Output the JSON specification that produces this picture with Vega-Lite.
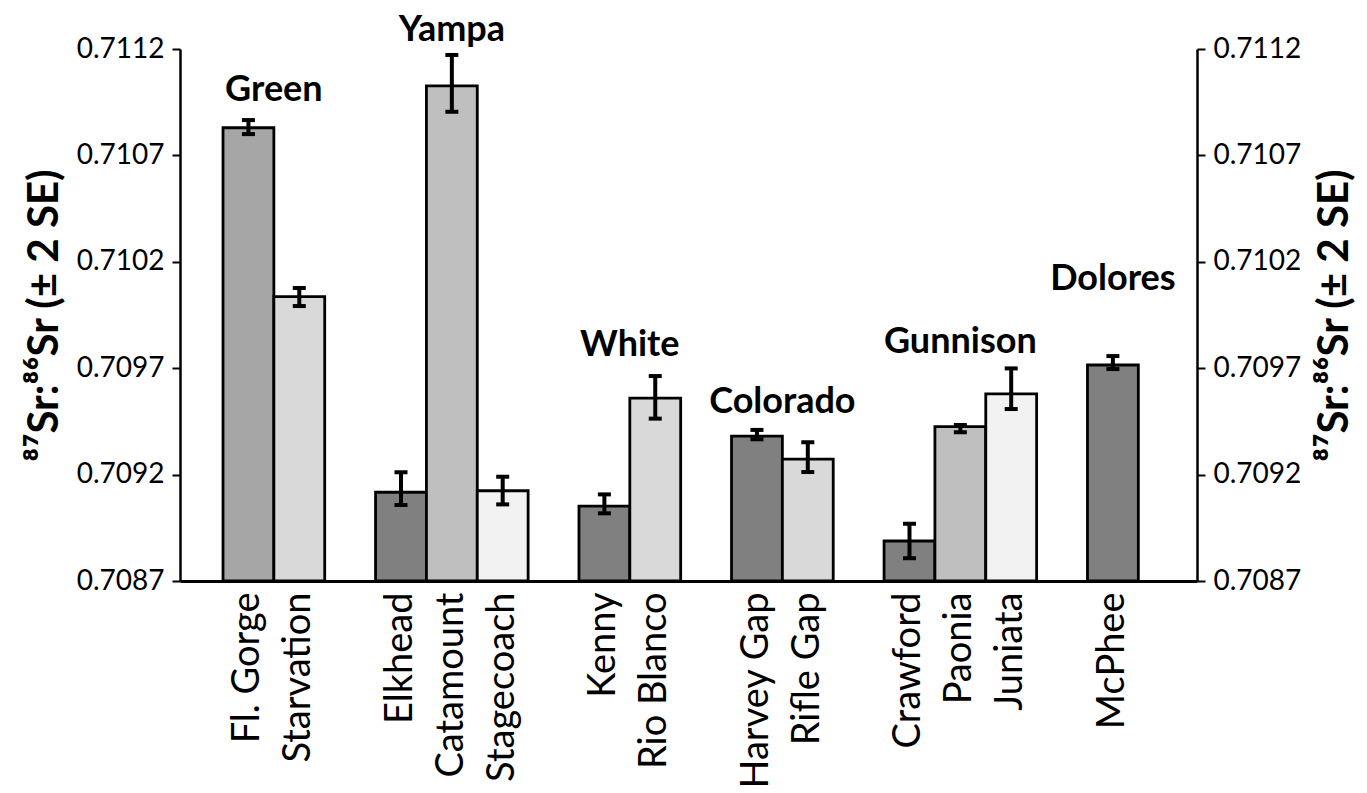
{
  "$schema": "https://vega.github.io/schema/vega-lite/v6.json",
  "width": 1017,
  "height": 532,
  "autosize": {"type": "none"},
  "padding": {"left": 180, "top": 49, "right": 170, "bottom": 212},
  "background": "white",
  "config": {"view": {"stroke": null}},
  "datasets": {
    "res": [
      {"reservoir": "Fl. Gorge", "river": "Green", "value": 0.71083, "lo": 0.7108, "hi": 0.710866},
      {"reservoir": "Starvation", "river": "Green", "value": 0.710036, "lo": 0.709992, "hi": 0.710077},
      {"reservoir": "Elkhead", "river": "Yampa", "value": 0.709117, "lo": 0.709057, "hi": 0.709211},
      {"reservoir": "Catamount", "river": "Yampa", "value": 0.711027, "lo": 0.710905, "hi": 0.711172},
      {"reservoir": "Stagecoach", "river": "Yampa", "value": 0.709124, "lo": 0.70906, "hi": 0.70919},
      {"reservoir": "Kenny", "river": "White", "value": 0.709052, "lo": 0.709018, "hi": 0.709107},
      {"reservoir": "Rio Blanco", "river": "White", "value": 0.709559, "lo": 0.709463, "hi": 0.709663},
      {"reservoir": "Harvey Gap", "river": "Colorado", "value": 0.709381, "lo": 0.709366, "hi": 0.70941},
      {"reservoir": "Rifle Gap", "river": "Colorado", "value": 0.709273, "lo": 0.709212, "hi": 0.709352},
      {"reservoir": "Crawford", "river": "Gunnison", "value": 0.708888, "lo": 0.708807, "hi": 0.708969},
      {"reservoir": "Paonia", "river": "Gunnison", "value": 0.709425, "lo": 0.709399, "hi": 0.709433},
      {"reservoir": "Juniata", "river": "Gunnison", "value": 0.709579, "lo": 0.709508, "hi": 0.709699},
      {"reservoir": "McPhee", "river": "Dolores", "value": 0.709715, "lo": 0.709696, "hi": 0.709757}
    ],
    "labelsEdge": [
      {"river": "Green", "anchor": "Starvation", "y": 0.711007},
      {"river": "White", "anchor": "Rio Blanco", "y": 0.709809},
      {"river": "Colorado", "anchor": "Rifle Gap", "y": 0.709541}
    ],
    "labelsMid": [
      {"river": "Yampa", "anchor": "Catamount", "y": 0.71129},
      {"river": "Gunnison", "anchor": "Paonia", "y": 0.709823},
      {"river": "Dolores", "anchor": "McPhee", "y": 0.710119}
    ]
  },
  "resolve": {"scale": {"y": "independent"}, "axis": {"y": "independent"}},
  "layer": [
    {
      "data": {"name": "res"},
      "mark": {"type": "bar", "stroke": "black", "strokeWidth": 2.8},
      "encoding": {
        "x": {
          "field": "reservoir", "type": "nominal", "title": null,
          "scale": {"domain": ["Fl. Gorge","Starvation"," ","Elkhead","Catamount","Stagecoach","  ","Kenny","Rio Blanco","   ","Harvey Gap","Rifle Gap","    ","Crawford","Paonia","Juniata","     ","McPhee"], "paddingInner": 0, "paddingOuter": 1.13, "align": 0.423},
          "axis": {"orient": "bottom", "labelAngle": 270, "labelAlign": "right", "labelBaseline": "middle", "labelFont": "Lato", "labelFontSize": 38, "labelColor": "black", "labelPadding": 11, "ticks": false, "tickSize": 0, "domainColor": "black", "domainWidth": 3, "labelOverlap": false, "labelLimit": 400}
        },
        "y": {
          "field": "value", "type": "quantitative",
          "scale": {"domain": [0.7087, 0.7112], "nice": false, "zero": false},
          "axis": {"orient": "left", "values": [0.7087,0.7092,0.7097,0.7102,0.7107,0.7112], "format": ".4f", "title": "⁸⁷Sr:⁸⁶Sr (± 2 SE)", "titleFont": "Lato, DejaVu Sans", "titleFontSize": 42, "titleFontWeight": "bold", "titleColor": "black", "titlePadding": 10, "labelFont": "Lato", "labelFontSize": 28, "labelColor": "black", "labelPadding": 8, "tickSize": 8, "tickWidth": 2, "tickColor": "black", "domainColor": "black", "domainWidth": 2.5, "grid": false}
        },
        "y2": {"datum": 0.7087},
        "color": {
          "field": "reservoir", "type": "nominal", "legend": null,
          "scale": {"domain": ["Fl. Gorge","Starvation","Elkhead","Catamount","Stagecoach","Kenny","Rio Blanco","Harvey Gap","Rifle Gap","Crawford","Paonia","Juniata","McPhee"],
                    "range": ["#a6a6a6","#d9d9d9","#808080","#bfbfbf","#f2f2f2","#808080","#d9d9d9","#808080","#d9d9d9","#808080","#bfbfbf","#f2f2f2","#808080"]}
        }
      }
    },
    {
      "data": {"name": "res"},
      "mark": {"type": "rule", "color": "black", "strokeWidth": 4},
      "encoding": {
        "x": {"field": "reservoir", "type": "nominal", "title": null},
        "y": {
          "field": "lo", "type": "quantitative",
          "scale": {"domain": [0.7087, 0.7112], "nice": false, "zero": false},
          "axis": {"orient": "right", "values": [0.7087,0.7092,0.7097,0.7102,0.7107,0.7112], "format": ".4f", "title": "⁸⁷Sr:⁸⁶Sr (± 2 SE)", "titleFont": "Lato, DejaVu Sans", "titleFontSize": 42, "titleFontWeight": "bold", "titleColor": "black", "titlePadding": 14, "titleAngle": 270, "titleBaseline": "top", "labelFont": "Lato", "labelFontSize": 28, "labelColor": "black", "labelPadding": 8, "tickSize": 8, "tickWidth": 2, "tickColor": "black", "domainColor": "black", "domainWidth": 2.5, "grid": false}
        },
        "y2": {"field": "hi"}
      }
    },
    {
      "data": {"name": "res"},
      "mark": {"type": "tick", "color": "black", "size": 13, "thickness": 4, "opacity": 1},
      "encoding": {
        "x": {"field": "reservoir", "type": "nominal", "title": null},
        "y": {"field": "lo", "type": "quantitative", "scale": {"domain": [0.7087, 0.7112], "nice": false, "zero": false}, "axis": null}
      }
    },
    {
      "data": {"name": "res"},
      "mark": {"type": "tick", "color": "black", "size": 13, "thickness": 4, "opacity": 1},
      "encoding": {
        "x": {"field": "reservoir", "type": "nominal", "title": null},
        "y": {"field": "hi", "type": "quantitative", "scale": {"domain": [0.7087, 0.7112], "nice": false, "zero": false}, "axis": null}
      }
    },
    {
      "data": {"name": "labelsEdge"},
      "mark": {"type": "text", "font": "Lato", "fontSize": 36, "fontWeight": "bold", "color": "black", "align": "center", "baseline": "middle"},
      "encoding": {
        "x": {"field": "anchor", "type": "nominal", "title": null, "bandPosition": 0},
        "y": {"field": "y", "type": "quantitative", "scale": {"domain": [0.7087, 0.7112], "nice": false, "zero": false}, "axis": null},
        "text": {"field": "river"}
      }
    },
    {
      "data": {"name": "labelsMid"},
      "mark": {"type": "text", "font": "Lato", "fontSize": 36, "fontWeight": "bold", "color": "black", "align": "center", "baseline": "middle"},
      "encoding": {
        "x": {"field": "anchor", "type": "nominal", "title": null, "bandPosition": 0.5},
        "y": {"field": "y", "type": "quantitative", "scale": {"domain": [0.7087, 0.7112], "nice": false, "zero": false}, "axis": null},
        "text": {"field": "river"}
      }
    }
  ]
}
